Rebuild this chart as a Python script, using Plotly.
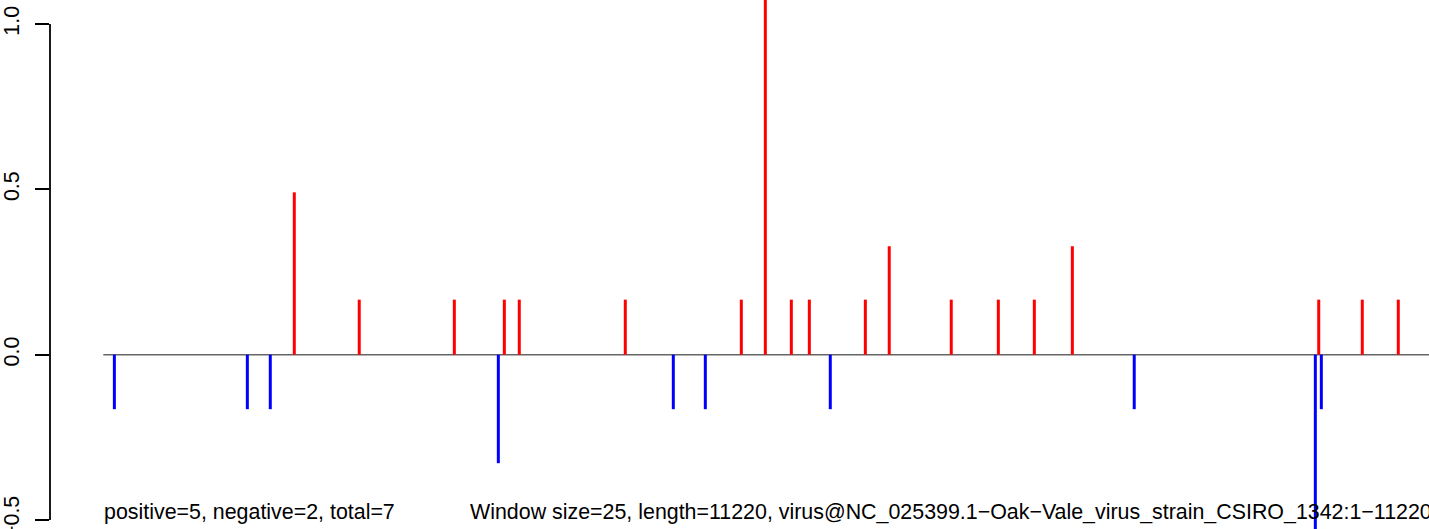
import plotly.graph_objects as go

# Positions along the genome (nt) and window scores
pos_x = [1624, 2176, 2984, 3409, 3536, 4437, 5423, 5627, 5848, 6001,
         6477, 6680, 7207, 7607, 7913, 8236, 10330, 10700, 11006]
pos_y = [0.491, 0.1665, 0.1665, 0.1665, 0.1665, 0.1665, 0.1665, 1.1667, 0.1665, 0.1665,
         0.1665, 0.328, 0.1665, 0.1665, 0.1665, 0.328, 0.1665, 0.1665, 0.1665]
neg_x = [95, 1225, 1420, 3358, 4845, 5117, 6179, 8762, 10301, 10352]
neg_y = [-0.1647, -0.1647, -0.1647, -0.328, -0.1647, -0.1647, -0.1647, -0.1647, -0.667, -0.1647]

genome_length = 11220
x_range = [-452, 11267]
y_range = [-0.527, 1.0726]
y_ticks = [-0.5, 0.0, 0.5, 1.0]
y_tick_labels = ["\u22120.5", "0.0", "0.5", "1.0"]
summary_text = "positive=5, negative=2, total=7"
info_text = ("Window size=25, length=11220, "
             "virus@NC_025399.1\u2212Oak\u2212Vale_virus_strain_CSIRO_1342:1\u221211220")

FONT = "Liberation Sans, Arial, Helvetica, sans-serif"
FS = 21.4


def stems(xs, ys):
    sx, sy = [], []
    for x, y in zip(xs, ys):
        sx += [x, x, None]
        sy += [0, y, None]
    return sx, sy


fig = go.Figure()
# baseline at zero
fig.add_trace(go.Scatter(x=[1, x_range[1]], y=[0, 0], mode="lines",
                         line=dict(color="#666666", width=1.5),
                         hoverinfo="skip", showlegend=False))
px_, py_ = stems(pos_x, pos_y)
fig.add_trace(go.Scatter(x=px_, y=py_, mode="lines",
                         line=dict(color="#FF0000", width=3),
                         showlegend=False))
nx_, ny_ = stems(neg_x, neg_y)
fig.add_trace(go.Scatter(x=nx_, y=ny_, mode="lines",
                         line=dict(color="#0000FF", width=3),
                         showlegend=False))

fig.update_layout(
    width=1429, height=529,
    margin=dict(l=50, r=0, t=0, b=0, autoexpand=False),
    paper_bgcolor="white", plot_bgcolor="white",
    font=dict(family=FONT, size=FS, color="black"),
    xaxis=dict(range=x_range, visible=False, showgrid=False, zeroline=False,
               automargin=False),
    yaxis=dict(range=y_range, showgrid=False, zeroline=False, automargin=False,
               showline=False, tickmode="array", tickvals=y_ticks,
               ticktext=y_tick_labels, ticks="outside", ticklen=14,
               tickwidth=1.8, tickcolor="black", tickangle=-90,
               ticklabelstandoff=7, ticklabeloverflow="allow",
               tickfont=dict(family=FONT, size=FS, color="black")),
    shapes=[dict(type="line", xref="paper", yref="y", x0=0, x1=0,
                 y0=y_ticks[0], y1=y_ticks[-1],
                 line=dict(color="black", width=1.8))],
    annotations=[
        dict(text=summary_text, xref="paper", yref="y",
             x=(101.5 - 50) / 1379, y=-0.475, xanchor="left", yanchor="middle",
             showarrow=False, font=dict(family=FONT, size=FS, color="black")),
        dict(text=info_text, xref="paper", yref="y",
             x=(468 - 50) / 1379, y=-0.475, xanchor="left", yanchor="middle",
             showarrow=False, font=dict(family=FONT, size=FS, color="black")),
    ],
)

fig.write_html("out.html", config={"displayModeBar": False},
               post_script="document.body.style.margin='0';document.body.style.padding='0';")
